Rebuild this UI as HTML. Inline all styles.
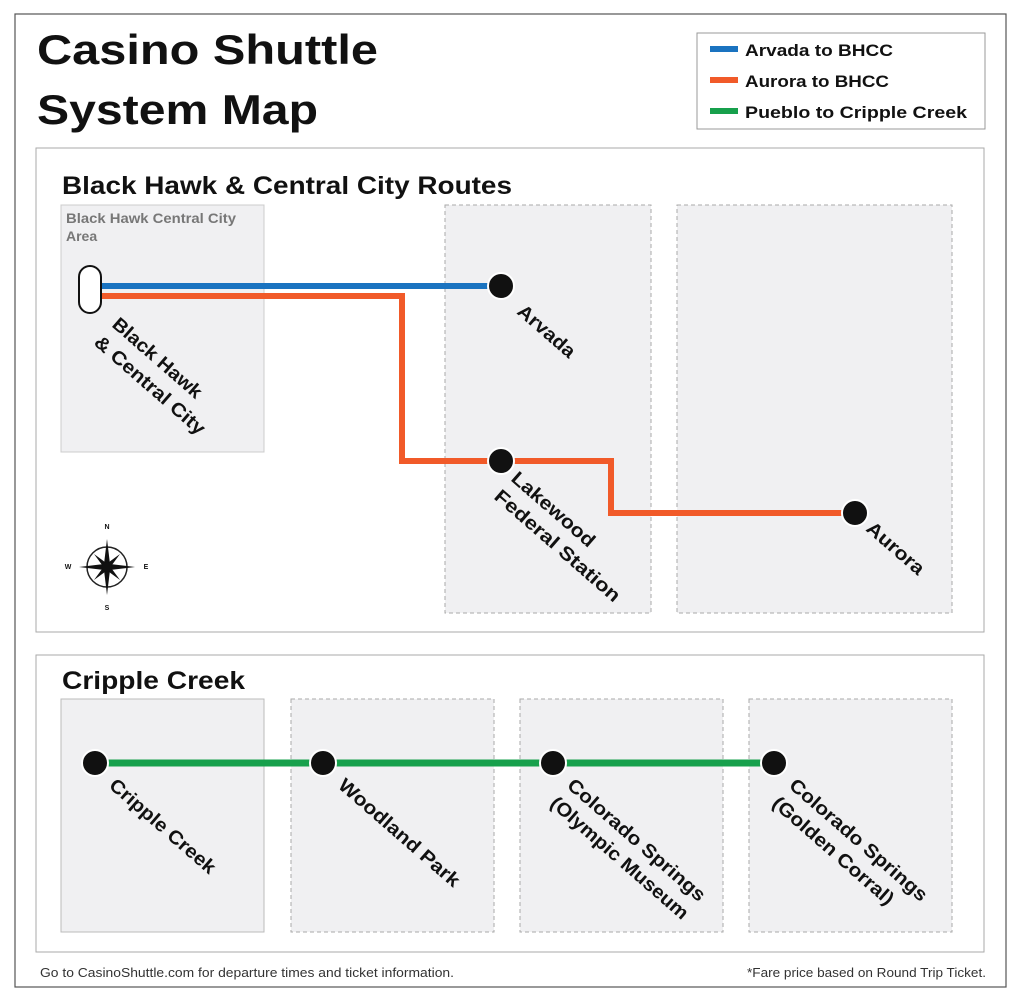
<!DOCTYPE html>
<html><head><meta charset="utf-8"><style>
html,body{margin:0;padding:0;background:#fff;}
svg{display:block;}
text{font-family:"Liberation Sans",sans-serif;}
</style></head><body>
<svg width="1024" height="1000" viewBox="0 0 1024 1000" xmlns="http://www.w3.org/2000/svg">
<rect x="15" y="14" width="991" height="973" fill="#fff" stroke="#555" stroke-width="1.2"/>
<text x="37" y="64" font-size="42" font-weight="bold" fill="#111" textLength="341" lengthAdjust="spacingAndGlyphs">Casino Shuttle</text>
<text x="37" y="124" font-size="42" font-weight="bold" fill="#111" textLength="281" lengthAdjust="spacingAndGlyphs">System Map</text>
<rect x="697" y="33" width="288" height="96" fill="#fff" stroke="#999"/>
<line x1="710" y1="49" x2="738" y2="49" stroke="#1a73c0" stroke-width="6"/>
<line x1="710" y1="80" x2="738" y2="80" stroke="#f15a29" stroke-width="6"/>
<line x1="710" y1="111" x2="738" y2="111" stroke="#17a04c" stroke-width="6"/>
<text x="745" y="56" font-size="17" font-weight="bold" fill="#111" textLength="148" lengthAdjust="spacingAndGlyphs">Arvada to BHCC</text>
<text x="745" y="87" font-size="17" font-weight="bold" fill="#111" textLength="144" lengthAdjust="spacingAndGlyphs">Aurora to BHCC</text>
<text x="745" y="118" font-size="17" font-weight="bold" fill="#111" textLength="222" lengthAdjust="spacingAndGlyphs">Pueblo to Cripple Creek</text>

<rect x="36" y="148" width="948" height="484" fill="#fff" stroke="#aaa"/>
<text x="62" y="194" font-size="25" font-weight="bold" fill="#111" textLength="450" lengthAdjust="spacingAndGlyphs">Black Hawk &amp; Central City Routes</text>
<rect x="61" y="205" width="203" height="247" fill="#f0f0f2" stroke="#ccc"/>
<text x="66" y="223" font-size="14" font-weight="bold" fill="#777" textLength="170" lengthAdjust="spacingAndGlyphs">Black Hawk Central City</text>
<text x="66" y="241" font-size="14" font-weight="bold" fill="#777">Area</text>
<rect x="445" y="205" width="206" height="408" fill="#f0f0f2" stroke="#aaa" stroke-dasharray="4,3"/>
<rect x="677" y="205" width="275" height="408" fill="#f0f0f2" stroke="#aaa" stroke-dasharray="4,3"/>

<line x1="100" y1="286" x2="501" y2="286" stroke="#1a73c0" stroke-width="6"/>
<polyline points="100,296 402,296 402,461 611,461 611,513 855,513" fill="none" stroke="#f15a29" stroke-width="6"/>
<rect x="79" y="266" width="22" height="47" rx="11" fill="#fff" stroke="#111" stroke-width="2"/>
<circle cx="501" cy="286" r="13" fill="#111" stroke="#fff" stroke-width="2"/>
<circle cx="501" cy="461" r="13" fill="#111" stroke="#fff" stroke-width="2"/>
<circle cx="855" cy="513" r="13" fill="#111" stroke="#fff" stroke-width="2"/>

<g font-size="19" font-weight="bold" fill="#111">
<text transform="translate(111,326) rotate(41)" textLength="112" lengthAdjust="spacingAndGlyphs">Black Hawk</text>
<text transform="translate(93,344) rotate(41)" textLength="140" lengthAdjust="spacingAndGlyphs">&amp; Central City</text>
<text transform="translate(516,313) rotate(41)" textLength="70" lengthAdjust="spacingAndGlyphs">Arvada</text>
<text transform="translate(510,480) rotate(41)" textLength="104" lengthAdjust="spacingAndGlyphs">Lakewood</text>
<text transform="translate(493,498) rotate(41)" textLength="160" lengthAdjust="spacingAndGlyphs">Federal Station</text>
<text transform="translate(865,530) rotate(41)" textLength="70" lengthAdjust="spacingAndGlyphs">Aurora</text>
</g>

<g transform="translate(107,567)" fill="#111">
<circle r="20" fill="none" stroke="#222" stroke-width="1.5"/>
<polygon points="0,-28 3,-3 0,0 -3,-3"/>
<polygon points="0,28 3,3 0,0 -3,3"/>
<polygon points="-28,0 -3,3 0,0 -3,-3"/>
<polygon points="28,0 3,3 0,0 3,-3"/>
<polygon points="-13,-13 2,-2 -2,2" />
<polygon points="13,-13 2,2 -2,-2" />
<polygon points="-13,13 -2,-2 2,2" />
<polygon points="13,13 -2,2 2,-2" />
<circle r="5"/>
<text x="0" y="-38" font-size="7" text-anchor="middle" font-family="Liberation Serif,serif" font-weight="bold">N</text>
<text x="0" y="43" font-size="7" text-anchor="middle" font-family="Liberation Serif,serif" font-weight="bold">S</text>
<text x="-39" y="2" font-size="7" text-anchor="middle" font-family="Liberation Serif,serif" font-weight="bold">W</text>
<text x="39" y="2" font-size="7" text-anchor="middle" font-family="Liberation Serif,serif" font-weight="bold">E</text>
</g>

<rect x="36" y="655" width="948" height="297" fill="#fff" stroke="#aaa"/>
<text x="62" y="689" font-size="25" font-weight="bold" fill="#111" textLength="183" lengthAdjust="spacingAndGlyphs">Cripple Creek</text>
<rect x="61" y="699" width="203" height="233" fill="#f0f0f2" stroke="#bbb"/>
<rect x="291" y="699" width="203" height="233" fill="#f0f0f2" stroke="#aaa" stroke-dasharray="4,3"/>
<rect x="520" y="699" width="203" height="233" fill="#f0f0f2" stroke="#aaa" stroke-dasharray="4,3"/>
<rect x="749" y="699" width="203" height="233" fill="#f0f0f2" stroke="#aaa" stroke-dasharray="4,3"/>
<line x1="95" y1="763" x2="774" y2="763" stroke="#17a04c" stroke-width="7"/>
<circle cx="95" cy="763" r="13" fill="#111" stroke="#fff" stroke-width="2"/>
<circle cx="323" cy="763" r="13" fill="#111" stroke="#fff" stroke-width="2"/>
<circle cx="553" cy="763" r="13" fill="#111" stroke="#fff" stroke-width="2"/>
<circle cx="774" cy="763" r="13" fill="#111" stroke="#fff" stroke-width="2"/>
<g font-size="19" font-weight="bold" fill="#111">
<text transform="translate(108,787) rotate(41)" textLength="134" lengthAdjust="spacingAndGlyphs">Cripple Creek</text>
<text transform="translate(337,787) rotate(41)" textLength="154" lengthAdjust="spacingAndGlyphs">Woodland Park</text>
<text transform="translate(566,787) rotate(41)" textLength="176" lengthAdjust="spacingAndGlyphs">Colorado Springs</text>
<text transform="translate(549,805) rotate(41)" textLength="176" lengthAdjust="spacingAndGlyphs">(Olympic Museum</text>
<text transform="translate(788,787) rotate(41)" textLength="176" lengthAdjust="spacingAndGlyphs">Colorado Springs</text>
<text transform="translate(771,805) rotate(41)" textLength="154" lengthAdjust="spacingAndGlyphs">(Golden Corral)</text>
</g>

<text x="40" y="977" font-size="12.5" fill="#333" textLength="414" lengthAdjust="spacingAndGlyphs">Go to CasinoShuttle.com for departure times and ticket information.</text>
<text x="747" y="977" font-size="12.5" fill="#333" textLength="239" lengthAdjust="spacingAndGlyphs">*Fare price based on Round Trip Ticket.</text>
</svg>
</body></html>
